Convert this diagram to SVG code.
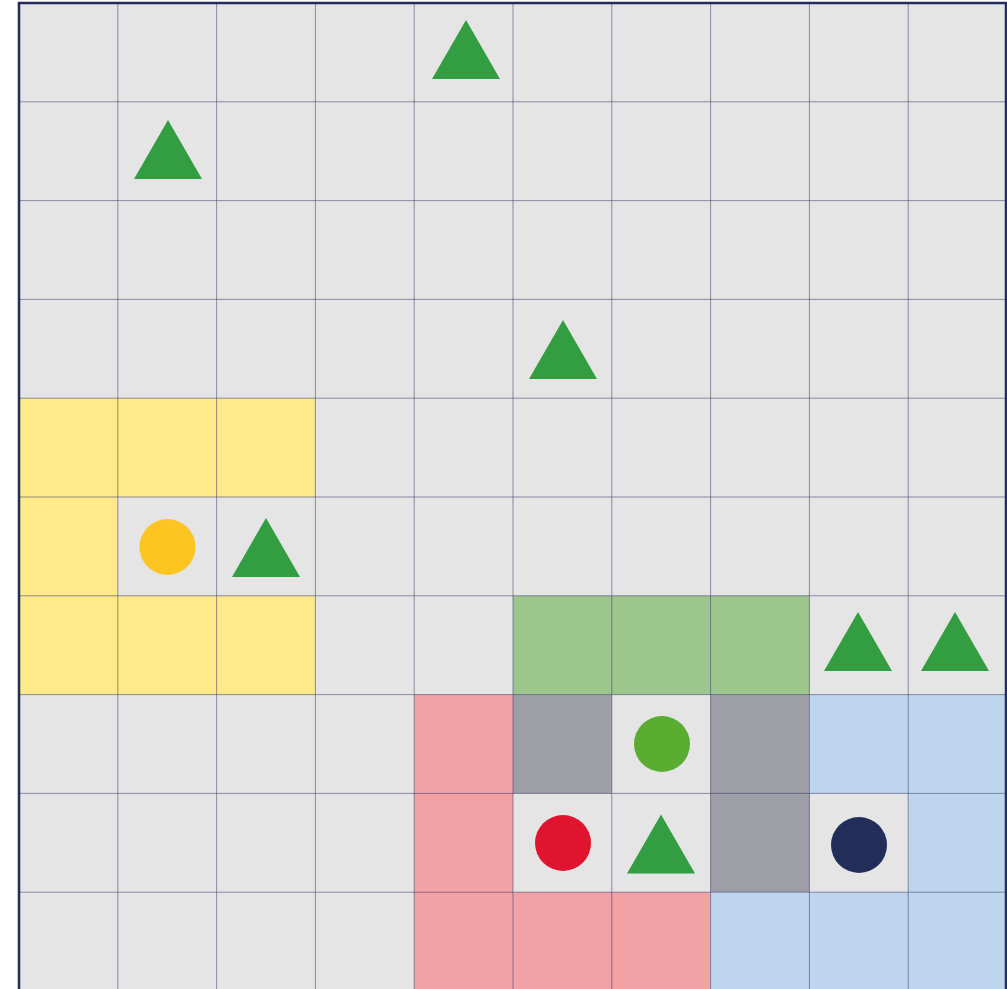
<svg xmlns="http://www.w3.org/2000/svg" width="1007" height="989" viewBox="0 0 1007 989">
<style>
.bg{fill:#e5e5e5}
.y{fill:#fee98b}
.g{fill:#9dc68c}
.p{fill:#f2a2a4}
.k{fill:#9d9ea6}
.b{fill:#bdd6ed}
.grid line{stroke:#3e3e6e;stroke-width:1;stroke-opacity:0.55}
.tri{fill:#339e41}
</style>
<defs>
<polygon id="tri" points="0,0 34,59 -34,59"/>
</defs>
<rect x="0" y="0" width="1007" height="989" fill="#ffffff"/>
<rect class="bg" x="19" y="3" width="988" height="988"/>
<g id="regions">
<rect class="y" x="19" y="398.2" width="296.4" height="98.8"/>
<rect class="y" x="19" y="497" width="98.8" height="98.8"/>
<rect class="y" x="19" y="595.8" width="296.4" height="98.8"/>
<rect class="g" x="513" y="595.8" width="296.4" height="98.8"/>
<rect class="k" x="513" y="694.6" width="98.8" height="98.8"/>
<rect class="k" x="710.6" y="694.6" width="98.8" height="197.6"/>
<rect class="p" x="414.2" y="694.6" width="98.8" height="296.4"/>
<rect class="p" x="513" y="892.2" width="197.6" height="98.8"/>
<rect class="b" x="809.4" y="694.6" width="197.6" height="98.8"/>
<rect class="b" x="908.2" y="793.4" width="98.8" height="98.8"/>
<rect class="b" x="710.6" y="892.2" width="296.4" height="98.8"/>
</g>
<g class="grid">
<line x1="117.8" y1="3" x2="117.8" y2="991"/>
<line x1="216.6" y1="3" x2="216.6" y2="991"/>
<line x1="315.4" y1="3" x2="315.4" y2="991"/>
<line x1="414.2" y1="3" x2="414.2" y2="991"/>
<line x1="513" y1="3" x2="513" y2="991"/>
<line x1="611.8" y1="3" x2="611.8" y2="991"/>
<line x1="710.6" y1="3" x2="710.6" y2="991"/>
<line x1="809.4" y1="3" x2="809.4" y2="991"/>
<line x1="908.2" y1="3" x2="908.2" y2="991"/>
<line x1="19" y1="101.8" x2="1007" y2="101.8"/>
<line x1="19" y1="200.6" x2="1007" y2="200.6"/>
<line x1="19" y1="299.4" x2="1007" y2="299.4"/>
<line x1="19" y1="398.2" x2="1007" y2="398.2"/>
<line x1="19" y1="497" x2="1007" y2="497"/>
<line x1="19" y1="595.8" x2="1007" y2="595.8"/>
<line x1="19" y1="694.6" x2="1007" y2="694.6"/>
<line x1="19" y1="793.4" x2="1007" y2="793.4"/>
<line x1="19" y1="892.2" x2="1007" y2="892.2"/>
</g>
<rect x="19" y="3" width="987" height="988" fill="none" stroke="#232c5c" stroke-width="2.5"/>
<g id="triangles">
<use class="tri" href="#tri" x="466" y="20"/>
<use class="tri" href="#tri" x="168" y="120"/>
<use class="tri" href="#tri" x="563" y="320"/>
<use class="tri" href="#tri" x="266" y="518"/>
<use class="tri" href="#tri" x="858" y="612"/>
<use class="tri" href="#tri" x="955" y="612"/>
<use class="tri" href="#tri" x="661" y="814.5"/>
</g>
<g id="circles">
<circle cx="167.5" cy="547" r="28" fill="#fdc521"/>
<circle cx="662" cy="744" r="28" fill="#5aad31"/>
<circle cx="563" cy="843" r="28" fill="#e1142f"/>
<circle cx="859" cy="845" r="28" fill="#222d5a"/>
</g>
</svg>
